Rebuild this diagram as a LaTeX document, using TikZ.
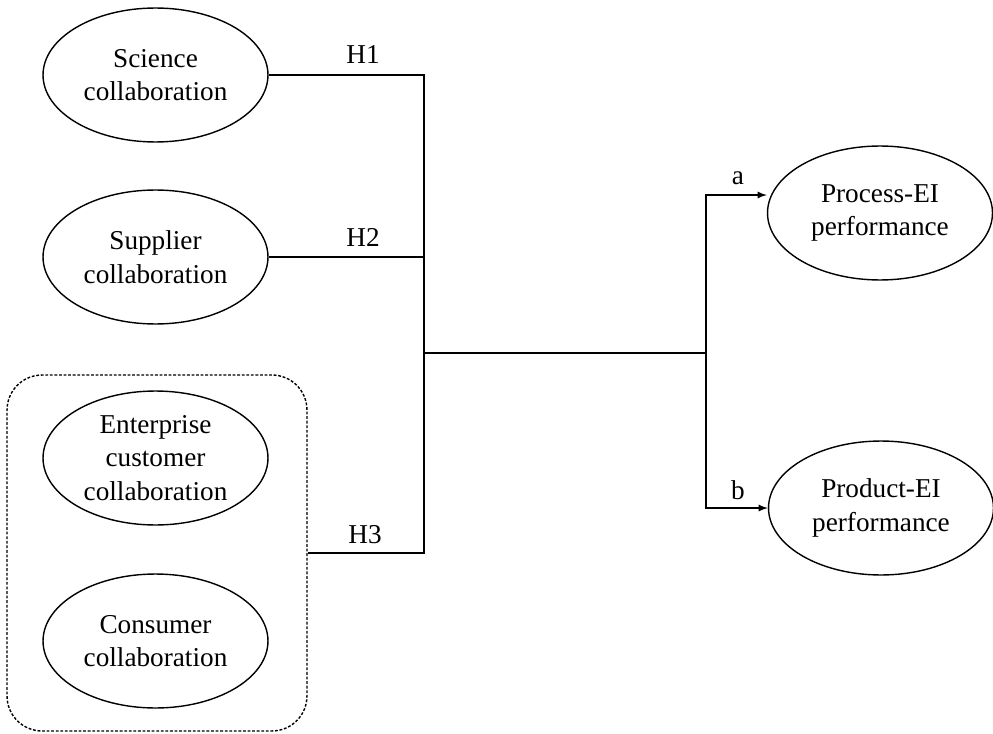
\documentclass[tikz,border=0pt]{standalone}
\usepackage{fontspec}
\setmainfont{Liberation Serif}
\usepackage{tikz}
\usetikzlibrary{shapes.geometric}

\begin{document}
\begin{tikzpicture}
[x=0.02cm,y=-0.02cm,
 every node/.style={font=\fontsize{15.5}{19}\selectfont},
 construct/.style={ellipse,draw,line width=0.8pt,inner sep=0pt,align=center,minimum width=4.5cm,minimum height=2.68cm},
 group/.style={rectangle,draw,dash pattern=on 1.6pt off 1pt,line width=0.8pt,rounded corners=0.7cm,minimum width=6cm,minimum height=7.12cm},
 link/.style={line width=0.8pt},
 hv path/.style={to path={-| (\tikztotarget)}},
 vh path/.style={to path={|- (\tikztotarget)}}]
\useasboundingbox (0,0) rectangle (993,733);
\node[group]     (grp)  at (157,553) {};
\node[construct] (sci)  at (155.5,75)  {Science\\collaboration};
\node[construct] (sup)  at (155.5,257) {Supplier\\collaboration};
\node[construct] (ent)  at (155.5,458) {Enterprise\\customer\\collaboration};
\node[construct] (con)  at (155.5,641) {Consumer\\collaboration};
\node[construct] (proc) at (880,213)   {Process-EI\\performance};
\node[construct] (prod) at (881,508)   {Product-EI\\performance};
\coordinate (hub)   at (424,353);
\coordinate (split) at (706,353);
\path[link] (sci.east) edge[hv path] (hub)
            (sup.east) edge[hv path] (hub)
            (grp.east) edge[hv path] (hub)
            (hub) edge (split);
\path[link,->,>=latex] (split) edge[vh path] ([yshift=0.36cm]proc.west)
                               edge[vh path] (prod.west);
\node (h1) at (363,55)  {H1};
\node (h2) at (363,237) {H2};
\node (h3) at (365,535) {H3};
\node (la) at (738,178) {a};
\node (lb) at (738,490) {b};
\end{tikzpicture}
\end{document}
